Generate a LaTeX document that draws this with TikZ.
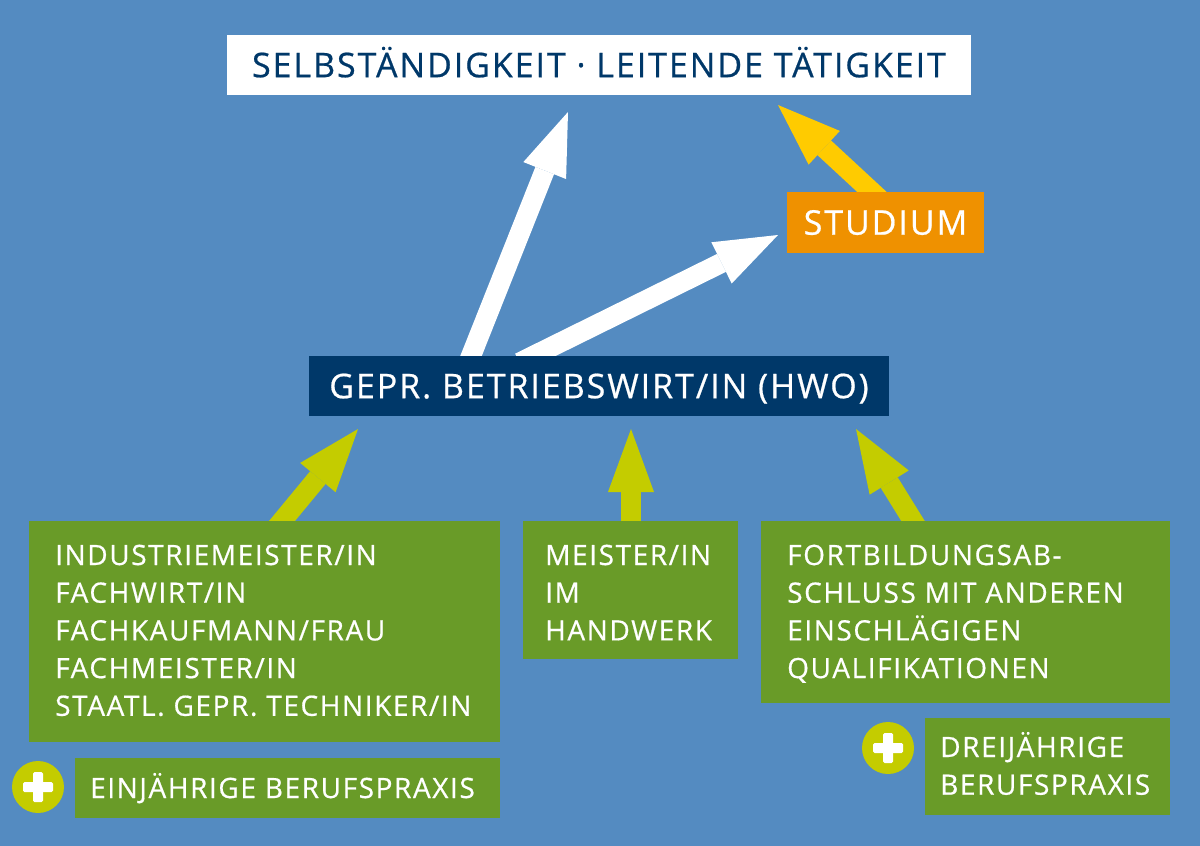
\documentclass[tikz,border=0pt]{standalone}
\usepackage{fontspec}
\setmainfont{Open Sans}[LetterSpace=5.7,FakeBold=0.6]
\usetikzlibrary{arrows.meta,calc}
\definecolor{bg}{HTML}{548BC1}
\definecolor{navy}{HTML}{003869}
\definecolor{grn}{HTML}{699B28}
\definecolor{lime}{HTML}{C4CC00}
\definecolor{orng}{HTML}{EF9100}
\definecolor{yell}{HTML}{FFCB00}
\tikzset{
  box/.style={anchor=north west, inner sep=0pt, outer sep=0pt, draw=none},
  lbl/.style={anchor=base west, inner sep=0pt, text=white, font=\fontsize{28}{34}\selectfont},
  bigarrow/.style={line width=20pt, -{Triangle[width=46pt,length=63pt,line width=0pt]}},
}
\begin{document}
\begin{tikzpicture}[x=1pt,y=-1pt]
\fill[bg] (0,0) rectangle (1200,846);
\useasboundingbox (0,0) rectangle (1200,846);

% arrow coordinates
\coordinate (w1s) at (471,356);  \coordinate (w1t) at (568,112);
\coordinate (w2s) at (533,356);  \coordinate (w2t) at (778,235);
\coordinate (ys)  at (872,192);  \coordinate (yt)  at (778,105);
\coordinate (l1s) at (282,521);  \coordinate (l1t) at (358,429);
\coordinate (l2s) at (631,521);  \coordinate (l2t) at (631,429);
\coordinate (l3s) at (913,521);  \coordinate (l3t) at (856,429);

\draw[bigarrow, white] ($(w1s)!-15pt!(w1t)$) -- (w1t);
\draw[bigarrow, white] ($(w2s)!-15pt!(w2t)$) -- (w2t);
\draw[bigarrow, yell]  ($(ys)!-15pt!(yt)$) -- (yt);
\draw[bigarrow, lime]  ($(l1s)!-15pt!(l1t)$) -- (l1t);
\draw[bigarrow, lime]  ($(l2s)!-15pt!(l2t)$) -- (l2t);
\draw[bigarrow, lime]  ($(l3s)!-15pt!(l3t)$) -- (l3t);

% top box
\node[box, fill=white, minimum width=744pt, minimum height=60pt] (top) at (227,35) {};
\node[anchor=base, inner sep=0pt, text=navy, font=\fontsize{34}{40}\selectfont] (toptxt) at ($(top.center)+(0,12.2)$) {SELBSTÄNDIGKEIT · LEITENDE TÄTIGKEIT};

% studium
\node[box, fill=orng, minimum width=197pt, minimum height=61pt] (stud) at (787,192) {};
\node[anchor=base, inner sep=0pt, text=white, font=\fontsize{34}{40}\selectfont] (studtxt) at ($(stud.center)+(0,12.2)$) {STUDIUM};

% HWO
\node[box, fill=navy, minimum width=580pt, minimum height=60pt] (hwo) at (309,356) {};
\node[anchor=base, inner sep=0pt, text=white, font=\fontsize{34}{40}\selectfont] (hwotxt) at ($(hwo.center)+(0,12.2)$) {GEPR. BETRIEBSWIRT/IN (HWO)};

% green boxes
\node[box, fill=grn, minimum width=471pt, minimum height=221pt] (g1) at (29,521) {};
\node[box, fill=grn, minimum width=215pt, minimum height=138pt] (g2) at (523,521) {};
\node[box, fill=grn, minimum width=409pt, minimum height=182pt] (g3) at (761,521) {};
\node[box, fill=grn, minimum width=425pt, minimum height=60pt] (g4) at (75,758) {};
\node[box, fill=grn, minimum width=245pt, minimum height=97pt] (g5) at (925,718) {};

\foreach \t [count=\i from 0] in {INDUSTRIEMEISTER/IN, FACHWIRT/IN, FACHKAUFMANN/FRAU, FACHMEISTER/IN, STAATL. GEPR. TECHNIKER/IN}
  \node[lbl] (g1l\i) at (55,565+37.7*\i) {\t};
\foreach \t [count=\i from 0] in {MEISTER/IN, IM, HANDWERK}
  \node[lbl] (g2l\i) at (545,565+37.7*\i) {\t};
\foreach \t [count=\i from 0] in {FORTBILDUNGSAB-, SCHLUSS MIT ANDEREN, EINSCHLÄGIGEN, QUALIFIKATIONEN}
  \node[lbl] (g3l\i) at (787,565+37.7*\i) {\t};
\node[lbl] (g4l) at (90,798) {EINJÄHRIGE BERUFSPRAXIS};
\foreach \t [count=\i from 0] in {DREIJÄHRIGE, BERUFSPRAXIS}
  \node[lbl] (g5l\i) at (940,757+37.7*\i) {\t};

% plus icons
\foreach \n/\p in {p1/{(38,787)}, p2/{(888,748)}} {
  \node[circle, fill=lime, minimum size=52pt, inner sep=0pt] (\n) at \p {};
  \fill[white, rounded corners=1.5pt] ($(\n.center)+(-15,-5)$) rectangle ($(\n.center)+(15,5)$);
  \fill[white, rounded corners=1.5pt] ($(\n.center)+(-5,-15)$) rectangle ($(\n.center)+(5,15)$);
}
\end{tikzpicture}
\end{document}
